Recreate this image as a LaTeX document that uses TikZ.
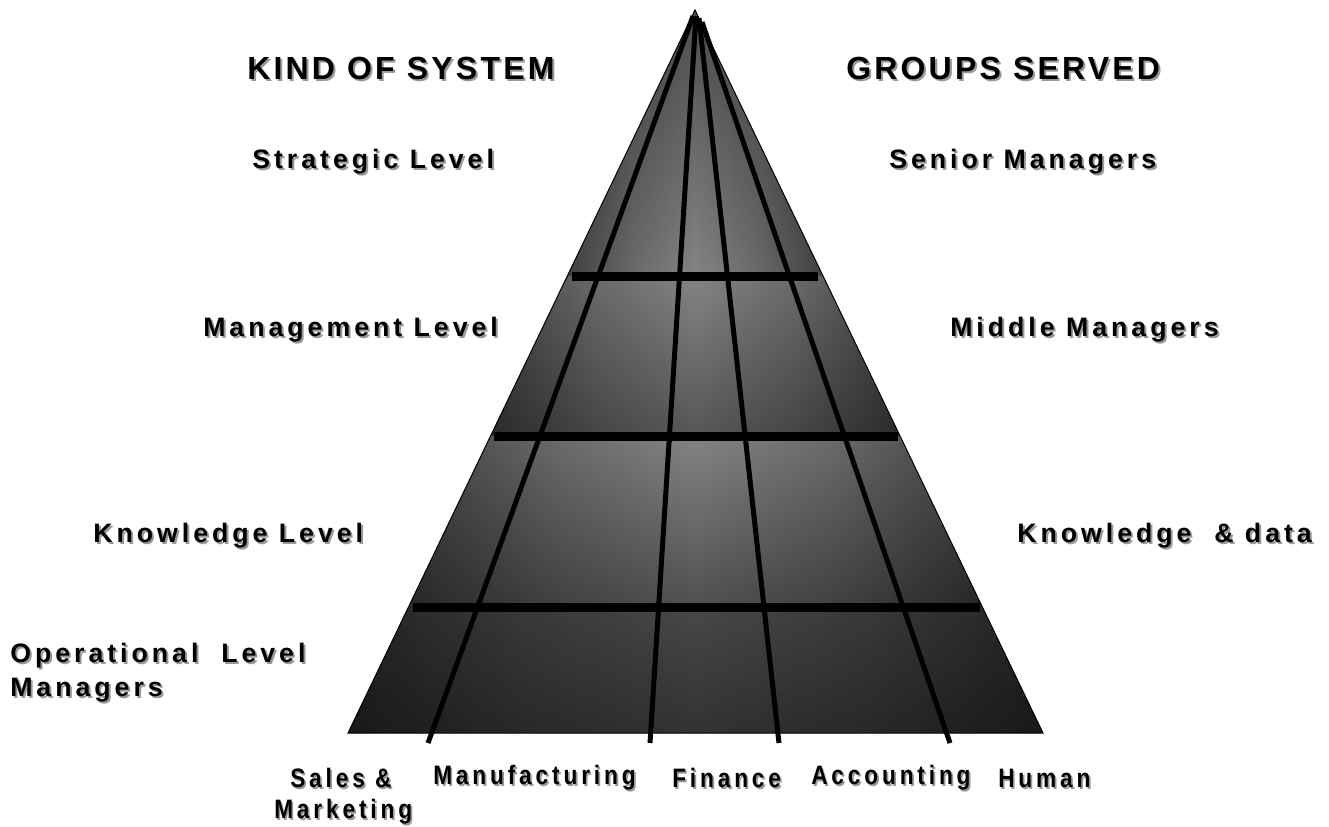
\documentclass[tikz,border=0pt]{standalone}
\usepackage{fontspec}
\setmainfont{Liberation Sans}
\newfontfamily\headfont[LetterSpace=10]{Liberation Sans}
\newfontfamily\lvlfont[LetterSpace=15]{Liberation Sans}
\newfontfamily\deptfont[LetterSpace=17]{Liberation Sans}
\usetikzlibrary{calc,fadings}

\pgfdeclarehorizontalshading{bandshade}{100bp}{color(0bp)=(black!88); color(22bp)=(black!78); color(38bp)=(black!58); color(50bp)=(black!48); color(62bp)=(black!58); color(78bp)=(black!78); color(100bp)=(black!88)}
\tikzfading[name=fadedown, top color=transparent!100, bottom color=transparent!0]
\tikzfading[name=fadeup, top color=transparent!0, bottom color=transparent!100]

\newcommand{\shad}[1]{\leavevmode\rlap{\hspace{1.5pt}\raisebox{-1.5pt}[0pt][0pt]{\color{black!40}#1}}#1}
\newcommand{\deptlbl}[1]{\scalebox{0.85}[1]{\shad{#1}}}

\begin{document}
\begin{tikzpicture}[x=0.75pt, y=-0.75pt,
    head/.style={anchor=west, inner sep=0pt, font=\headfont\bfseries\fontsize{24pt}{28pt}\selectfont},
    lvl/.style={anchor=west, inner sep=0pt, align=left, font=\lvlfont\bfseries\fontsize{20pt}{25.5pt}\selectfont},
    dept/.style={anchor=west, inner sep=0pt, font=\deptfont\bfseries\fontsize{20pt}{24pt}\selectfont}]
    \useasboundingbox (0,0) rectangle (1329,826);

    \coordinate (apex) at (695,10);
    \coordinate (bl) at (348,733);
    \coordinate (br) at (1043,733);
    \foreach \n/\t in {1/0.368, 2/0.589, 3/0.826} {
        \coordinate (s\n l) at ($(apex)!\t!(bl)$);
        \coordinate (s\n r) at ($(apex)!\t!(br)$);
    }

    \shade[shading=bandshade] (apex) -- (s1r) -- (s1l) -- cycle;
    \fill[black, fill opacity=0.4, path fading=fadeup] (apex) -- (s1r) -- (s1l) -- cycle;
    \shade[shading=bandshade] (s1l) -- (s1r) -- (s2r) -- (s2l) -- cycle;
    \fill[black, fill opacity=0.35, path fading=fadedown] (s1l) -- (s1r) -- (s2r) -- (s2l) -- cycle;
    \shade[shading=bandshade] (s2l) -- (s2r) -- (s3r) -- (s3l) -- cycle;
    \fill[black, fill opacity=0.4, path fading=fadedown] (s2l) -- (s2r) -- (s3r) -- (s3l) -- cycle;
    \shade[shading=bandshade] (s3l) -- (s3r) -- (br) -- (bl) -- cycle;
    \fill[black, fill opacity=0.45] (s3l) -- (s3r) -- (br) -- (bl) -- cycle;
    \fill[black, fill opacity=0.3, path fading=fadedown] (s3l) -- (s3r) -- (br) -- (bl) -- cycle;

    \draw[line width=0.75pt] (apex) -- (br) -- (bl) -- cycle;

    \foreach \tx/\ty/\bx in {693/16/428, 696/16/650, 699/18/779, 702/22/950}
        \draw[line width=3.75pt] (\tx,\ty) -- (\bx,743);
    \foreach \y/\xl/\xr in {276/572/818, 436/494/898, 607/413/980}
        \draw[line width=6.75pt] (\xl,\y) -- (\xr,\y);

    \node[head] (kind) at (247,68) {\shad{KIND OF SYSTEM}};
    \node[head] (groups) at (846,68) {\shad{GROUPS SERVED}};

    \node[lvl] (strat) at (252,162) {\shad{Strategic Level}};
    \node[lvl] (mgmt) at (203,330) {\shad{Management Level}};
    \node[lvl] (know) at (93,536) {\shad{Knowledge Level}};
    \node[lvl] (oper) at (10,673) {\shad{Operational\ \ Level}\\\shad{Managers}};

    \node[lvl] (senior) at (889,162) {\shad{Senior Managers}};
    \node[lvl] (middle) at (950,330) {\shad{Middle Managers}};
    \node[lvl] (kdata) at (1017,536) {\shad{Knowledge\ \ \& data}};

    \node[dept] (sales) at (290,778) {\deptlbl{Sales \&}};
    \node[dept] (market) at (274,812) {\deptlbl{Marketing}};
    \node[dept] (manuf) at (433,778) {\deptlbl{Manufacturing}};
    \node[dept] (fin) at (672,778) {\deptlbl{Finance}};
    \node[dept] (acct) at (811,778) {\deptlbl{Accounting}};
    \node[dept] (human) at (998,778) {\deptlbl{Human}};
\end{tikzpicture}
\end{document}
